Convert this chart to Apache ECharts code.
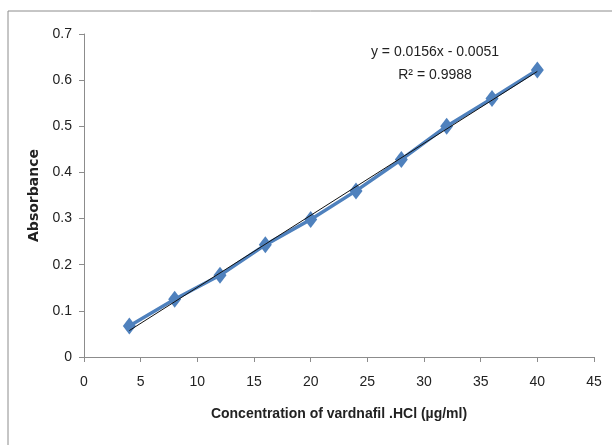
<!DOCTYPE html>
<html>
<head>
<meta charset="utf-8">
<script src="https://cdn.jsdelivr.net/npm/echarts@6/dist/echarts.min.js"></script>
<style>
  html, body { margin: 0; padding: 0; background: #fff; }
  #chart { width: 612px; height: 445px; }
</style>
</head>
<body>
<div id="chart"></div>
<script>
// 浓度 (µg/ml) 与吸光度
const concentration = [4, 8, 12, 16, 20, 24, 28, 32, 36, 40]
const absorbance = [0.067, 0.125, 0.177, 0.243, 0.298, 0.360, 0.428, 0.500, 0.560, 0.622]
// 趋势线 y = 0.0156x - 0.0051
const slope = 0.0156
const intercept = -0.0051
const trendX = [4, 40]

const font = '"Liberation Sans Narrow", "Liberation Sans", sans-serif'

const chartInstance = echarts.init(document.getElementById('chart'), null, { renderer: 'canvas' })

const option = {
  animation: false,
  backgroundColor: '#fff',
  grid: { left: 84, right: 18, top: 34, bottom: 88 },
  graphic: [
    {
      type: 'rect',
      shape: { x: 8, y: 11, width: 700, height: 500 },
      style: { fill: 'none', stroke: '#8c8c8c', lineWidth: 1 },
      silent: true
    },
    {
      type: 'text',
      x: 435,
      y: 52,
      style: { text: 'y = 0.0156x - 0.0051', fill: '#222', font: '14px ' + font, align: 'center', verticalAlign: 'middle' }
    },
    {
      type: 'text',
      x: 435,
      y: 75,
      style: { text: 'R² = 0.9988', fill: '#222', font: '14px ' + font, align: 'center', verticalAlign: 'middle' }
    }
  ],
  xAxis: {
    type: 'value',
    min: 0,
    max: 45,
    interval: 5,
    name: 'Concentration of vardnafil .HCl (µg/ml)',
    nameLocation: 'middle',
    nameGap: 50,
    nameTextStyle: { fontFamily: font, fontWeight: 'bold', fontSize: 14, color: '#222' },
    axisLine: { lineStyle: { color: '#8c8c8c' } },
    axisTick: { show: true, length: 5, lineStyle: { color: '#8c8c8c' } },
    axisLabel: { fontFamily: font, fontSize: 14, color: '#222', margin: 18 },
    splitLine: { show: false }
  },
  yAxis: {
    type: 'value',
    min: 0,
    max: 0.7,
    interval: 0.1,
    name: 'Absorbance',
    nameLocation: 'middle',
    nameGap: 42,
    nameTextStyle: { fontFamily: '"DejaVu Sans", sans-serif', fontWeight: 'bold', fontSize: 14, color: '#222' },
    axisLine: { show: true, lineStyle: { color: '#8c8c8c' } },
    axisTick: { show: true, length: 5, lineStyle: { color: '#8c8c8c' } },
    axisLabel: { fontFamily: font, fontSize: 14, color: '#222', margin: 12 },
    splitLine: { show: false }
  },
  series: [
    {
      type: 'line',
      name: 'Absorbance',
      data: concentration.map((x, i) => [x, absorbance[i]]),
      lineStyle: { color: '#4f81bd', width: 3.5 },
      itemStyle: { color: '#4f81bd' },
      symbol: 'diamond',
      symbolSize: [13, 17],
      z: 2
    },
    {
      type: 'line',
      name: 'Trend',
      data: trendX.map(x => [x, slope * x + intercept]),
      lineStyle: { color: '#111', width: 1 },
      symbol: 'none',
      z: 3
    }
  ]
}

chartInstance.setOption(option)
</script>
</body>
</html>
